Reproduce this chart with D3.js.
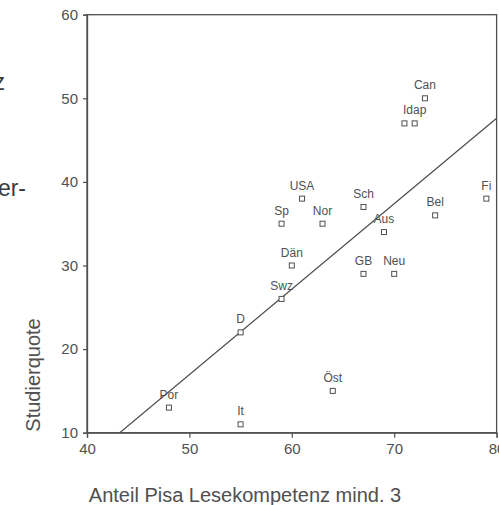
<!DOCTYPE html>
<html>
<head>
<meta charset="utf-8">
<script src="https://cdn.jsdelivr.net/npm/d3@7"></script>
<style>
  html, body { margin: 0; padding: 0; background: #fff; }
  svg { display: block; }
  text { font-family: "Liberation Sans", Arial, Helvetica, sans-serif; }
</style>
</head>
<body>
<svg id="chart" width="499" height="505"></svg>
<script>
// Country codes, PISA reading share (level 3+) and university entry rate
const countries = ["Can", "", "Idap", "Fi", "Bel", "Aus", "Sch", "USA", "Sp", "Nor",
                   "Dän", "Swz", "GB", "Neu", "Öst", "D", "Por", "It"];
const pisaShare = [73, 71, 72, 79, 74, 69, 67, 61, 59, 63, 60, 59, 67, 70, 64, 55, 48, 55];
const studyRate = [50, 47, 47, 38, 36, 34, 37, 38, 35, 35, 30, 26, 29, 29, 15, 22, 13, 11];

// Fitted regression line: Studierquote = intercept + slope * Anteil
const fitIntercept = -34.15;
const fitSlope = 1.022;

const xTicks = [40, 50, 60, 70, 80];
const yTicks = [10, 20, 30, 40, 50, 60];

const svg = d3.select("#chart");
const ink = "#505050";

const plotLeft = 87, plotRight = 496.6, plotTop = 14.7, plotBottom = 432.7;

const x = d3.scaleLinear().domain([40, 80]).range([plotLeft, plotRight]);
const y = d3.scaleLinear().domain([10, 60]).range([plotBottom, plotTop]);

// Fragments of the neighbouring page text
svg.append("text").attr("x", 5).attr("y", 90).attr("text-anchor", "end")
  .attr("font-size", 23).attr("fill", "#3a3a3a").text("z");
svg.append("text").attr("x", 26).attr("y", 196).attr("text-anchor", "end")
  .attr("font-size", 23).attr("fill", "#3a3a3a").text("er-");

// Frame
svg.append("rect")
  .attr("x", plotLeft).attr("y", plotTop)
  .attr("width", plotRight - plotLeft).attr("height", plotBottom - plotTop)
  .attr("fill", "none").attr("stroke", ink).attr("stroke-width", 1.3);

// Axes
const xAxis = svg.append("g")
  .attr("transform", `translate(0,${plotBottom})`)
  .call(d3.axisBottom(x).tickValues(xTicks).tickSize(5).tickPadding(6).tickFormat(d3.format("d")));
const yAxis = svg.append("g")
  .attr("transform", `translate(${plotLeft},0)`)
  .call(d3.axisLeft(y).tickValues(yTicks).tickSize(4).tickPadding(5).tickFormat(d3.format("d")));

[xAxis, yAxis].forEach(g => {
  g.select(".domain").attr("stroke", ink).attr("stroke-width", 1.3);
  g.selectAll(".tick line").attr("stroke", ink).attr("stroke-width", 1.2);
  g.selectAll(".tick text").attr("fill", ink).attr("font-size", 15)
    .style("font-family", '"Liberation Sans", Arial, sans-serif');
});

// Axis titles
svg.append("text")
  .attr("x", 245).attr("y", 502).attr("text-anchor", "middle")
  .attr("font-size", 20).attr("fill", ink)
  .text("Anteil Pisa Lesekompetenz mind. 3");
svg.append("text")
  .attr("transform", "translate(40,375) rotate(-90)")
  .attr("text-anchor", "middle")
  .attr("font-size", 20).attr("fill", ink)
  .text("Studierquote");

// Regression line, clipped to the plotting area
svg.append("clipPath").attr("id", "plotClip")
  .append("rect").attr("x", plotLeft).attr("y", plotTop)
  .attr("width", plotRight - plotLeft).attr("height", plotBottom - plotTop);

const xStart = (10 - fitIntercept) / fitSlope;
svg.append("line")
  .attr("clip-path", "url(#plotClip)")
  .attr("x1", x(xStart)).attr("y1", y(fitIntercept + fitSlope * xStart))
  .attr("x2", x(80)).attr("y2", y(fitIntercept + fitSlope * 80))
  .attr("stroke", ink).attr("stroke-width", 1.3);

// Points and labels
const points = countries.map((c, i) => ({ label: c, px: pisaShare[i], sy: studyRate[i] }));

const pts = svg.append("g").selectAll("g").data(points).join("g")
  .attr("transform", d => `translate(${x(d.px)},${y(d.sy)})`);

pts.append("rect")
  .attr("x", -2.5).attr("y", -2.5).attr("width", 5).attr("height", 5)
  .attr("fill", "#fff").attr("stroke", ink).attr("stroke-width", 1);

pts.append("text")
  .attr("y", -9).attr("text-anchor", "middle")
  .attr("font-size", 12).attr("fill", ink)
  .text(d => d.label);
</script>
</body>
</html>
